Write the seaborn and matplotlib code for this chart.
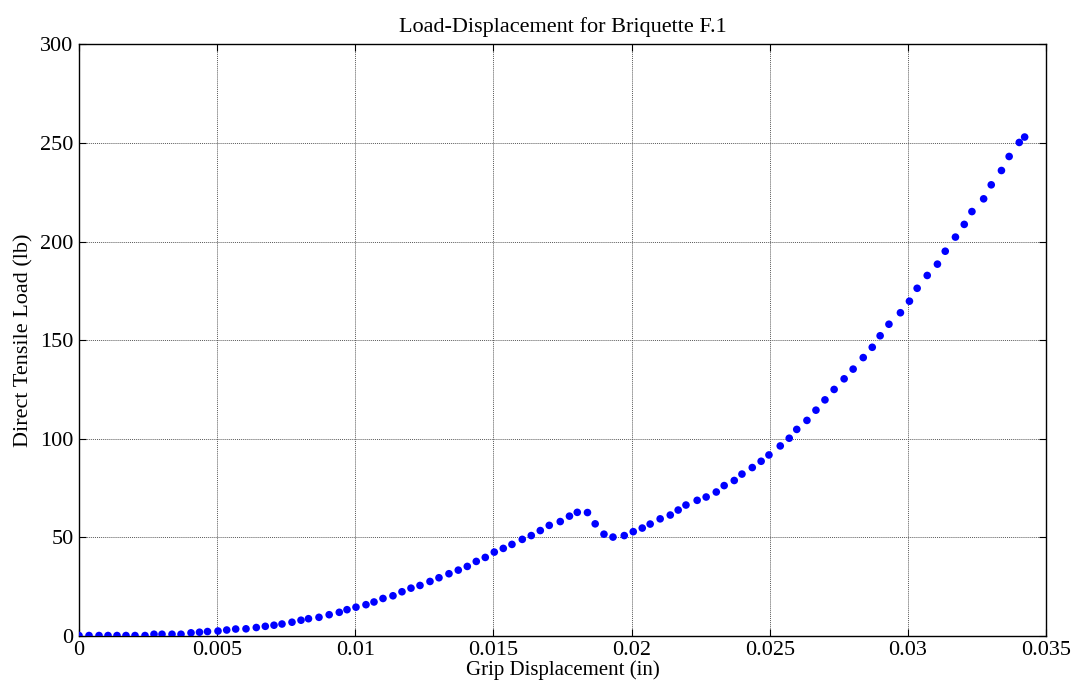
import numpy as np
import pandas as pd
import matplotlib
matplotlib.use("Agg")
import matplotlib.pyplot as plt
import seaborn as sns

# Grip displacement (in) and direct tensile load (lb) for briquette F.1
displacement = [
    0.00000, 0.000362, 0.000724, 0.00105, 0.001375, 0.00170, 0.002027, 0.002389,
    0.002714, 0.003004, 0.003366, 0.003692, 0.004054, 0.004361, 0.004651, 0.005031,
    0.005346, 0.005671, 0.006044, 0.006417, 0.006743, 0.007058, 0.007347, 0.007709,
    0.008035, 0.008306, 0.008686, 0.009055, 0.009421, 0.009700, 0.010025, 0.010387,
    0.010677, 0.011003, 0.011364, 0.011690, 0.012016, 0.012342, 0.012704, 0.013029,
    0.013391, 0.013728, 0.014054, 0.014379, 0.014705, 0.015031, 0.015357, 0.015671,
    0.016044, 0.016370, 0.016696, 0.017021, 0.017419, 0.017752, 0.018035, 0.018404,
    0.018683, 0.019001, 0.019327, 0.019736, 0.020061, 0.020387, 0.020673, 0.021035,
    0.021401, 0.021687, 0.021969, 0.022374, 0.022700, 0.023066, 0.023352, 0.023717,
    0.023996, 0.024369, 0.024690, 0.024973, 0.025382, 0.025707, 0.025979, 0.026348,
    0.026674, 0.027000, 0.027332, 0.027694, 0.028020, 0.028386, 0.028712, 0.028997,
    0.029316, 0.029732, 0.030058, 0.030337, 0.030702, 0.031071, 0.031354, 0.031723,
    0.032042, 0.032320, 0.032744, 0.033019, 0.033388, 0.033667, 0.034033, 0.034228,
]
load = [
    0.0, 0.0, 0.0, 0.0, 0.0, 0.0, 0.0, 0.0,
    0.66, 0.66, 0.66, 0.66, 1.37, 1.68, 2.03, 2.29,
    2.80, 3.30, 3.41, 4.07, 4.68, 5.24, 5.85, 6.76,
    7.78, 8.54, 9.25, 10.57, 11.79, 13.12, 14.39, 15.66,
    17.03, 18.81, 20.18, 22.22, 24.05, 25.42, 27.45, 29.33,
    31.37, 33.20, 35.08, 37.62, 39.65, 42.35, 44.23, 46.26,
    48.81, 50.74, 53.28, 55.92, 57.85, 60.60, 62.53, 62.43,
    56.69, 51.45, 49.97, 50.74, 52.72, 54.55, 56.58, 59.23,
    61.16, 63.70, 66.24, 68.63, 70.31, 72.85, 76.11, 78.70,
    81.95, 85.26, 88.46, 91.66, 96.24, 100.15, 104.63, 109.20,
    114.39, 119.62, 124.91, 130.30, 135.23, 141.08, 146.31, 152.16,
    158.01, 163.85, 169.70, 176.26, 182.77, 188.51, 195.07, 202.24,
    208.69, 215.20, 221.66, 228.77, 236.04, 243.16, 250.28, 253.03,
]

x_ticks = [0, 0.005, 0.01, 0.015, 0.02, 0.025, 0.03, 0.035]
x_tick_labels = ["0", "0.005", "0.01", "0.015", "0.02", "0.025", "0.03", "0.035"]
y_ticks = [0, 50, 100, 150, 200, 250, 300]

sns.set_style("white")
plt.rcParams["font.family"] = ["Liberation Serif", "DejaVu Serif"]
plt.rcParams["text.color"] = "black"
plt.rcParams["axes.labelcolor"] = "black"

df = pd.DataFrame({"Grip Displacement (in)": displacement,
                   "Direct Tensile Load (lb)": load})

fig = plt.figure(figsize=(10.75, 6.92), dpi=100)
ax = fig.add_axes([0.0735, 0.0816, 0.8995, 0.8541])

sns.scatterplot(data=df, x="Grip Displacement (in)", y="Direct Tensile Load (lb)",
                ax=ax, color="#0000ff", s=30, edgecolor="none", linewidth=0,
                zorder=3)

ax.set_xlim(0, 0.035)
ax.set_ylim(0, 300)
ax.set_xticks(x_ticks)
ax.set_xticklabels(x_tick_labels)
ax.set_yticks(y_ticks)
ax.set_yticklabels([str(v) for v in y_ticks])

ax.grid(True, color="#5a5a5a", linestyle=(0, (1, 1)), linewidth=0.7, zorder=0)
ax.set_axisbelow(True)

for side in ["top", "bottom", "left", "right"]:
    ax.spines[side].set_visible(True)
    ax.spines[side].set_color("black")
    ax.spines[side].set_linewidth(1.0)

ax.tick_params(axis="both", which="both", direction="in", length=5, width=0.8,
               top=True, right=True, bottom=True, left=True,
               labelsize=16, colors="black", pad=4)

ax.set_xlabel("Grip Displacement (in)", fontsize=15, labelpad=0, color="black")
ax.set_ylabel("Direct Tensile Load (lb)", fontsize=16, labelpad=5, color="black")
ax.set_title("Load-Displacement for Briquette F.1", fontsize=16, pad=9, color="black")

fig.savefig("out.png", dpi=100)
